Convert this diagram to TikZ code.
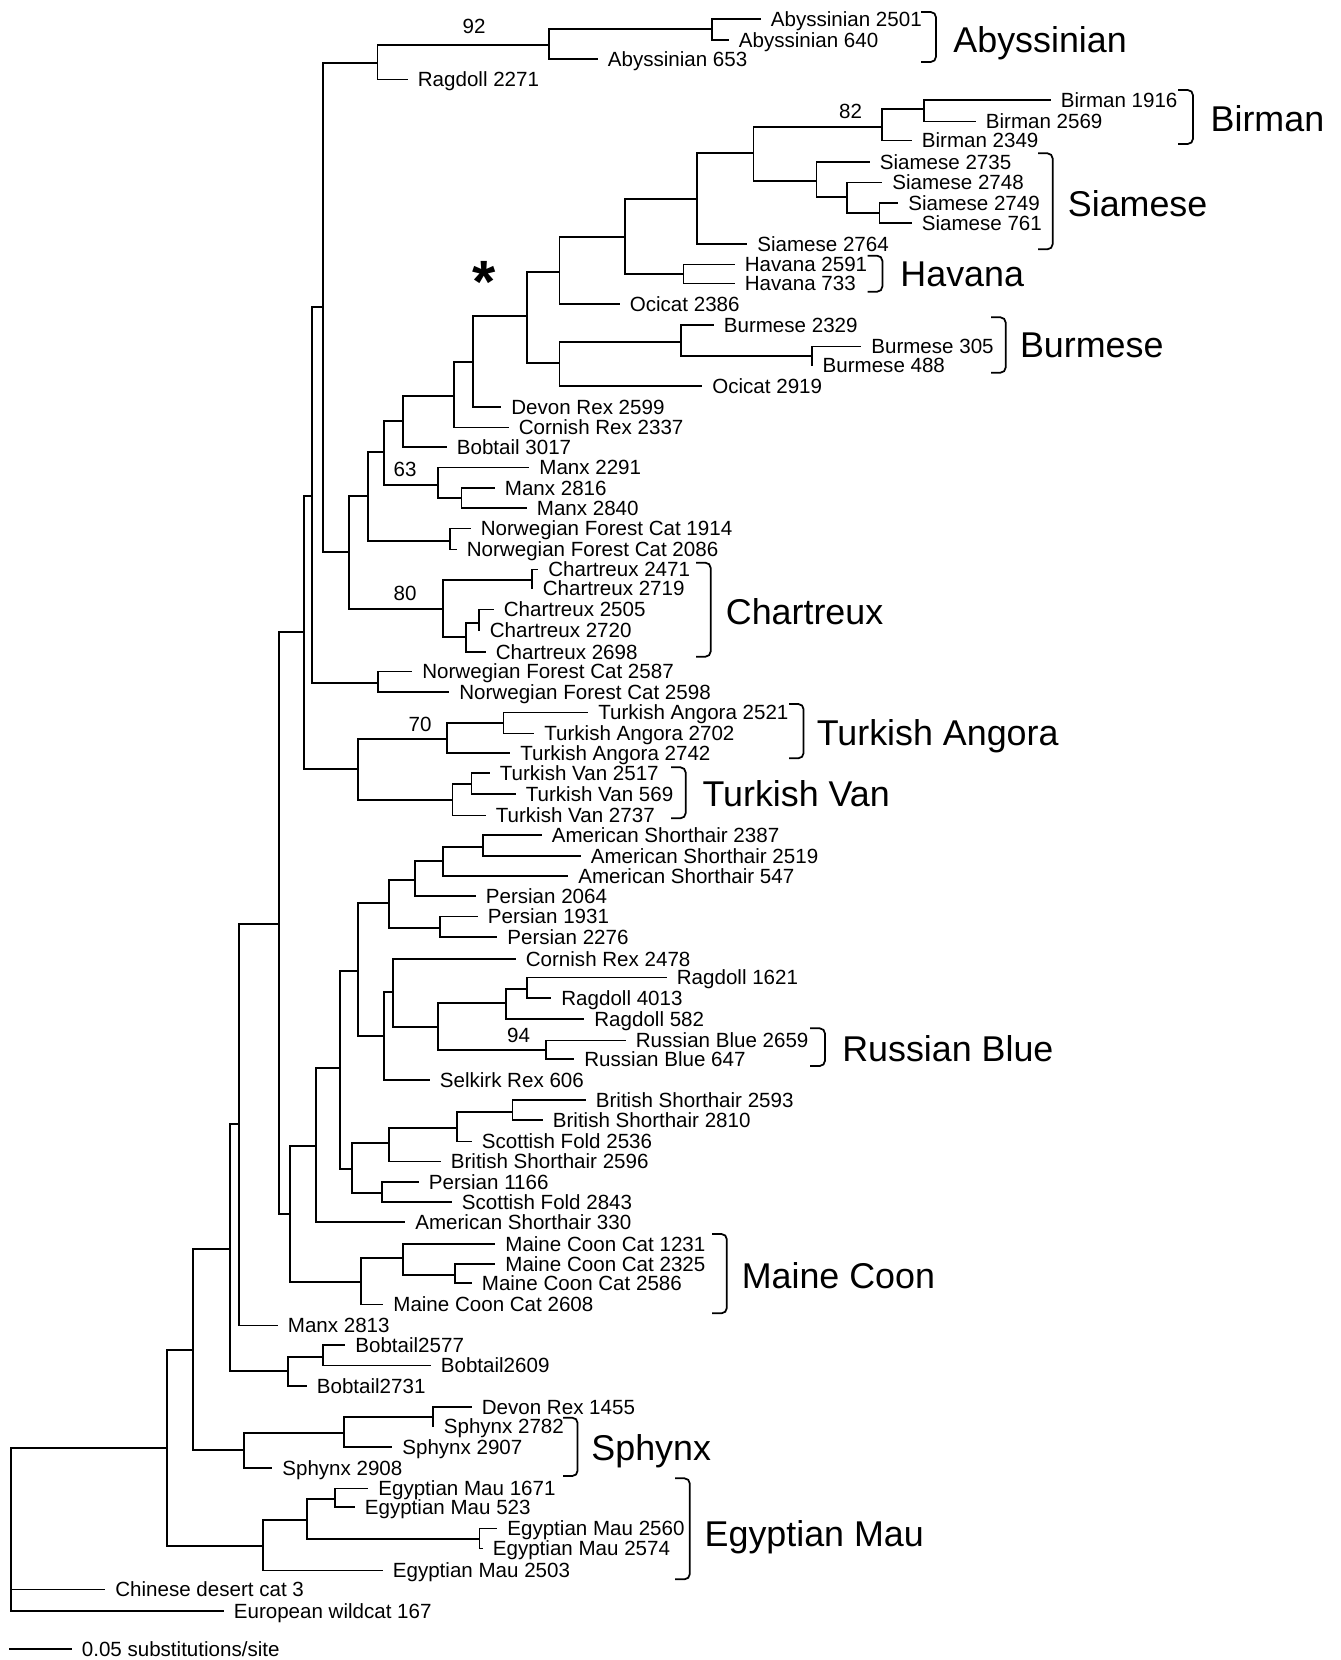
\documentclass[tikz,border=0pt]{standalone}
\usepackage{fontspec}
\setmainfont{Liberation Sans}
\begin{document}
\begin{tikzpicture}[x=0.02cm, y=-0.02cm, line width=1pt, line cap=rect,
  leaf/.style={anchor=west, inner xsep=0.2cm, inner ysep=0pt, text height=8.4pt, text depth=0pt, font=\fontsize{11.7}{12}\selectfont},
  clade/.style={anchor=west, inner sep=0pt, text height=14.6pt, text depth=0pt, font=\fontsize{20.4}{22}\selectfont},
  boot/.style={inner sep=0pt, text height=8.4pt, text depth=0pt, font=\fontsize{11.7}{12}\selectfont},
  bracket/.style={rounded corners=3pt}]
\useasboundingbox (0,0) rectangle (1341,1660);
% internal nodes
\coordinate (root) at (11,1530);
\coordinate (nI) at (167,1448);
\coordinate (nH) at (193,1350);
\coordinate (nG) at (230,1249);
\coordinate (nF) at (239,1124);
\coordinate (nD) at (279,924);
\coordinate (nC) at (304,632);
\coordinate (nB) at (312,496);
\coordinate (nA) at (323,307);
\coordinate (nAbyR) at (377.5,63);
\coordinate (nAby) at (548.7,45);
\coordinate (nAby2) at (712,29.3);
\coordinate (nS) at (349,552);
\coordinate (nT) at (367.7,496);
\coordinate (nU) at (384,451.7);
\coordinate (nV) at (403.3,420.7);
\coordinate (nW) at (454.3,395.7);
\coordinate (nX) at (473,362.3);
\coordinate (nY) at (527,316);
\coordinate (nZ) at (559.4,271.7);
\coordinate (nAA) at (624.8,236.7);
\coordinate (nHav) at (683.4,274);
\coordinate (nAB) at (697.2,199.3);
\coordinate (nAC) at (753.5,152.7);
\coordinate (nBir) at (882,126.7);
\coordinate (nBir2) at (924,109.3);
\coordinate (nSia) at (816.5,180.7);
\coordinate (nSia2) at (846.7,197.3);
\coordinate (nSia3) at (879.6,213.3);
\coordinate (nAD) at (559.6,363.3);
\coordinate (nBur) at (681.2,341.7);
\coordinate (nBur2) at (811.8,356);
\coordinate (nManx) at (437.7,485);
\coordinate (nManx2) at (461.5,498.3);
\coordinate (nNfcA) at (450,540.7);
\coordinate (nCha) at (442.7,608.7);
\coordinate (nCha1) at (532,580);
\coordinate (nCha2) at (466,636.7);
\coordinate (nCha3) at (479,623);
\coordinate (nNfcB) at (378,683);
\coordinate (nTur) at (358,769);
\coordinate (nAng) at (447,739);
\coordinate (nAng2) at (503.6,723);
\coordinate (nVan) at (452.5,800);
\coordinate (nVan2) at (471.4,784);
\coordinate (nE) at (290,1214);
\coordinate (nJ) at (316,1146);
\coordinate (nK) at (340,1068);
\coordinate (nM) at (358,971);
\coordinate (nQ) at (389,903);
\coordinate (nR) at (415,880);
\coordinate (nR2) at (442.7,861);
\coordinate (nR3) at (482.7,847);
\coordinate (nPer) at (440,928);
\coordinate (nN) at (384,1036);
\coordinate (nO) at (393,992);
\coordinate (nP) at (438,1027);
\coordinate (nRag) at (506,1003);
\coordinate (nRag2) at (526.7,989);
\coordinate (nRB) at (545.7,1050);
\coordinate (nL) at (352,1169);
\coordinate (nL1) at (389,1143);
\coordinate (nL3) at (457,1128);
\coordinate (nL4) at (512.5,1112);
\coordinate (nL2) at (382,1193);
\coordinate (nMC) at (361,1282);
\coordinate (nMC1) at (403,1258);
\coordinate (nMC2) at (455,1275);
\coordinate (nBob) at (288,1371);
\coordinate (nBob1) at (323,1357);
\coordinate (nSph) at (244,1450);
\coordinate (nSph1) at (344,1433);
\coordinate (nSph2) at (433,1417);
\coordinate (nEg) at (263,1546);
\coordinate (nEg1) at (307,1520);
\coordinate (nEg2) at (335,1499);
\coordinate (nEg3) at (479.6,1539);
% leaves
\node[leaf] (aby2501) at (760,19.3) {Abyssinian 2501};
\node[leaf] (aby640) at (728,40) {Abyssinian 640};
\node[leaf] (aby653) at (597,59.3) {Abyssinian 653};
\node[leaf] (rag2271) at (407,79.5) {Ragdoll 2271};
\node[leaf] (bir1916) at (1050,100) {Birman 1916};
\node[leaf] (bir2569) at (975,121.5) {Birman 2569};
\node[leaf] (bir2349) at (911,140.5) {Birman 2349};
\node[leaf] (sia2735) at (869,162) {Siamese 2735};
\node[leaf] (sia2748) at (881.5,182.5) {Siamese 2748};
\node[leaf] (sia2749) at (897.5,203) {Siamese 2749};
\node[leaf] (sia761) at (911,223) {Siamese 761};
\node[leaf] (sia2764) at (746.5,244) {Siamese 2764};
\node[leaf] (hav2591) at (734,264.5) {Havana 2591};
\node[leaf] (hav733) at (734,283.5) {Havana 733};
\node[leaf] (oci2386) at (619,304) {Ocicat 2386};
\node[leaf] (bur2329) at (713,325) {Burmese 2329};
\node[leaf] (bur305) at (860.5,346.5) {Burmese 305};
\node[leaf] (bur488) at (811.8,365.5) {Burmese 488};
\node[leaf] (oci2919) at (701.5,386) {Ocicat 2919};
\node[leaf] (dev2599) at (500.5,407) {Devon Rex 2599};
\node[leaf] (cor2337) at (508,427.5) {Cornish Rex 2337};
\node[leaf] (bob3017) at (446,447) {Bobtail 3017};
\node[leaf] (manx2291) at (528.5,467.5) {Manx 2291};
\node[leaf] (manx2816) at (494,488) {Manx 2816};
\node[leaf] (manx2840) at (526,508) {Manx 2840};
\node[leaf] (nfc1914) at (470,528.5) {Norwegian Forest Cat 1914};
\node[leaf] (nfc2086) at (456,549.5) {Norwegian Forest Cat 2086};
\node[leaf] (cha2471) at (537.5,569.5) {Chartreux 2471};
\node[leaf] (cha2719) at (532,588.5) {Chartreux 2719};
\node[leaf] (cha2505) at (493,609.5) {Chartreux 2505};
\node[leaf] (cha2720) at (479,630.5) {Chartreux 2720};
\node[leaf] (cha2698) at (485,652) {Chartreux 2698};
\node[leaf] (nfc2587) at (411.5,671.5) {Norwegian Forest Cat 2587};
\node[leaf] (nfc2598) at (448.5,692) {Norwegian Forest Cat 2598};
\node[leaf] (ta2521) at (587.5,712.5) {Turkish Angora 2521};
\node[leaf] (ta2702) at (533.5,733.5) {Turkish Angora 2702};
\node[leaf] (ta2742) at (509.5,753) {Turkish Angora 2742};
\node[leaf] (tv2517) at (489,773) {Turkish Van 2517};
\node[leaf] (tv569) at (515,794) {Turkish Van 569};
\node[leaf] (tv2737) at (485,815.5) {Turkish Van 2737};
\node[leaf] (ash2387) at (541,835) {American Shorthair 2387};
\node[leaf] (ash2519) at (580,856) {American Shorthair 2519};
\node[leaf] (ash547) at (567.5,876) {American Shorthair 547};
\node[leaf] (per2064) at (475,896) {Persian 2064};
\node[leaf] (per1931) at (477,916.5) {Persian 1931};
\node[leaf] (per2276) at (496.5,937) {Persian 2276};
\node[leaf] (cor2478) at (515,959) {Cornish Rex 2478};
\node[leaf] (rag1621) at (666,977.5) {Ragdoll 1621};
\node[leaf] (rag4013) at (550.5,998) {Ragdoll 4013};
\node[leaf] (rag582) at (583.5,1019) {Ragdoll 582};
\node[leaf] (rb2659) at (625,1040.5) {Russian Blue 2659};
\node[leaf] (rb647) at (573.5,1059) {Russian Blue 647};
\node[leaf] (sel606) at (429,1080) {Selkirk Rex 606};
\node[leaf] (bsh2593) at (585,1100) {British Shorthair 2593};
\node[leaf] (bsh2810) at (542,1120) {British Shorthair 2810};
\node[leaf] (sf2536) at (471,1141.5) {Scottish Fold 2536};
\node[leaf] (bsh2596) at (440,1161.5) {British Shorthair 2596};
\node[leaf] (per1166) at (418,1182) {Persian 1166};
\node[leaf] (sf2843) at (451,1202) {Scottish Fold 2843};
\node[leaf] (ash330) at (404.5,1222) {American Shorthair 330};
\node[leaf] (mcc1231) at (494.5,1244) {Maine Coon Cat 1231};
\node[leaf] (mcc2325) at (494.5,1264) {Maine Coon Cat 2325};
\node[leaf] (mcc2586) at (471,1283) {Maine Coon Cat 2586};
\node[leaf] (mcc2608) at (382.5,1304.5) {Maine Coon Cat 2608};
\node[leaf] (manx2813) at (277,1325.5) {Manx 2813};
\node[leaf] (bob2577) at (344.5,1345) {Bobtail2577};
\node[leaf] (bob2609) at (430,1365.5) {Bobtail2609};
\node[leaf] (bob2731) at (306,1386) {Bobtail2731};
\node[leaf] (dev1455) at (471,1407) {Devon Rex 1455};
\node[leaf] (sph2782) at (433,1426.5) {Sphynx 2782};
\node[leaf] (sph2907) at (391.5,1447) {Sphynx 2907};
\node[leaf] (sph2908) at (271.5,1468) {Sphynx 2908};
\node[leaf] (em1671) at (367.5,1488.5) {Egyptian Mau 1671};
\node[leaf] (em523) at (354,1507) {Egyptian Mau 523};
\node[leaf] (em2560) at (496.5,1528.5) {Egyptian Mau 2560};
\node[leaf] (em2574) at (482,1548.5) {Egyptian Mau 2574};
\node[leaf] (em2503) at (382,1570.5) {Egyptian Mau 2503};
\node[leaf] (chi3) at (104.5,1589.5) {Chinese desert cat 3};
\node[leaf] (eur167) at (223,1611) {European wildcat 167};
% branches
\draw (root) |- (nI) (root) |- (chi3.west) (root) |- (eur167.west);
\draw (nI) |- (nH) (nI) |- (nEg);
\draw (nH) |- (nG) (nH) |- (nSph);
\draw (nG) |- (nF) (nG) |- (nBob);
\draw (nF) |- (nD) (nF) |- (manx2813.west);
\draw (nD) |- (nC) (nD) |- (nE);
\draw (nC) |- (nB) (nC) |- (nTur);
\draw (nB) |- (nA) (nB) |- (nNfcB);
\draw (nA) |- (nAbyR) (nA) |- (nS);
\draw (nAbyR) |- (nAby) (nAbyR) |- (rag2271.west);
\draw (nAby) |- (nAby2) (nAby) |- (aby653.west);
\draw (nAby2) |- (aby2501.west) (nAby2) |- (aby640.west);
\draw (nS) |- (nT) (nS) |- (nCha);
\draw (nT) |- (nU) (nT) |- (nNfcA);
\draw (nU) |- (nV) (nU) |- (nManx);
\draw (nV) |- (nW) (nV) |- (bob3017.west);
\draw (nW) |- (nX) (nW) |- (cor2337.west);
\draw (nX) |- (nY) (nX) |- (dev2599.west);
\draw (nY) |- (nZ) (nY) |- (nAD);
\draw (nZ) |- (nAA) (nZ) |- (oci2386.west);
\draw (nAA) |- (nAB) (nAA) |- (nHav);
\draw (nHav) |- (hav2591.west) (nHav) |- (hav733.west);
\draw (nAB) |- (nAC) (nAB) |- (sia2764.west);
\draw (nAC) |- (nBir) (nAC) |- (nSia);
\draw (nBir) |- (nBir2) (nBir) |- (bir2349.west);
\draw (nBir2) |- (bir1916.west) (nBir2) |- (bir2569.west);
\draw (nSia) |- (sia2735.west) (nSia) |- (nSia2);
\draw (nSia2) |- (sia2748.west) (nSia2) |- (nSia3);
\draw (nSia3) |- (sia2749.west) (nSia3) |- (sia761.west);
\draw (nAD) |- (nBur) (nAD) |- (oci2919.west);
\draw (nBur) |- (bur2329.west) (nBur) |- (nBur2);
\draw (nBur2) |- (bur305.west) (nBur2) |- (bur488.west);
\draw (nManx) |- (manx2291.west) (nManx) |- (nManx2);
\draw (nManx2) |- (manx2816.west) (nManx2) |- (manx2840.west);
\draw (nNfcA) |- (nfc1914.west) (nNfcA) |- (nfc2086.west);
\draw (nCha) |- (nCha1) (nCha) |- (nCha2);
\draw (nCha1) |- (cha2471.west) (nCha1) |- (cha2719.west);
\draw (nCha2) |- (nCha3) (nCha2) |- (cha2698.west);
\draw (nCha3) |- (cha2505.west) (nCha3) |- (cha2720.west);
\draw (nNfcB) |- (nfc2587.west) (nNfcB) |- (nfc2598.west);
\draw (nTur) |- (nAng) (nTur) |- (nVan);
\draw (nAng) |- (nAng2) (nAng) |- (ta2742.west);
\draw (nAng2) |- (ta2521.west) (nAng2) |- (ta2702.west);
\draw (nVan) |- (nVan2) (nVan) |- (tv2737.west);
\draw (nVan2) |- (tv2517.west) (nVan2) |- (tv569.west);
\draw (nE) |- (nJ) (nE) |- (nMC);
\draw (nJ) |- (nK) (nJ) |- (ash330.west);
\draw (nK) |- (nM) (nK) |- (nL);
\draw (nM) |- (nQ) (nM) |- (nN);
\draw (nQ) |- (nR) (nQ) |- (nPer);
\draw (nR) |- (nR2) (nR) |- (per2064.west);
\draw (nR2) |- (nR3) (nR2) |- (ash547.west);
\draw (nR3) |- (ash2387.west) (nR3) |- (ash2519.west);
\draw (nPer) |- (per1931.west) (nPer) |- (per2276.west);
\draw (nN) |- (nO) (nN) |- (sel606.west);
\draw (nO) |- (cor2478.west) (nO) |- (nP);
\draw (nP) |- (nRag) (nP) |- (nRB);
\draw (nRag) |- (nRag2) (nRag) |- (rag582.west);
\draw (nRag2) |- (rag1621.west) (nRag2) |- (rag4013.west);
\draw (nRB) |- (rb2659.west) (nRB) |- (rb647.west);
\draw (nL) |- (nL1) (nL) |- (nL2);
\draw (nL1) |- (nL3) (nL1) |- (bsh2596.west);
\draw (nL3) |- (nL4) (nL3) |- (sf2536.west);
\draw (nL4) |- (bsh2593.west) (nL4) |- (bsh2810.west);
\draw (nL2) |- (per1166.west) (nL2) |- (sf2843.west);
\draw (nMC) |- (nMC1) (nMC) |- (mcc2608.west);
\draw (nMC1) |- (mcc1231.west) (nMC1) |- (nMC2);
\draw (nMC2) |- (mcc2325.west) (nMC2) |- (mcc2586.west);
\draw (nBob) |- (nBob1) (nBob) |- (bob2731.west);
\draw (nBob1) |- (bob2577.west) (nBob1) |- (bob2609.west);
\draw (nSph) |- (nSph1) (nSph) |- (sph2908.west);
\draw (nSph1) |- (nSph2) (nSph1) |- (sph2907.west);
\draw (nSph2) |- (dev1455.west) (nSph2) |- (sph2782.west);
\draw (nEg) |- (nEg1) (nEg) |- (em2503.west);
\draw (nEg1) |- (nEg2) (nEg1) |- (nEg3);
\draw (nEg2) |- (em1671.west) (nEg2) |- (em523.west);
\draw (nEg3) |- (em2560.west) (nEg3) |- (em2574.west);
% bootstrap values
\node[boot] (bs92) at (474,26.5) {92};
\node[boot] (bs82) at (850.5,111) {82};
\node[boot] (bs63) at (405,469.5) {63};
\node[boot] (bs80) at (405,593.5) {80};
\node[boot] (bs70) at (420,724) {70};
\node[boot] (bs94) at (518.6,1035.5) {94};
\node[anchor=base, inner sep=0pt, font=\fontsize{34}{34}\selectfont\bfseries] (star) at (484,302) {*};
% breed brackets
\draw[bracket] (922,12) -- (936,12) -- (936,62) -- (922,62);
\node[clade] (labAby) at (952.6,39.5) {Abyssinian};
\draw[bracket] (1179,90) -- (1193,90) -- (1193,144) -- (1179,144);
\node[clade] (labBir) at (1209.8,119) {Birman};
\draw[bracket] (1039,153.3) -- (1052.7,153.3) -- (1052.7,249.3) -- (1039,249.3);
\node[clade] (labSia) at (1067,203.5) {Siamese};
\draw[bracket] (868.5,255.7) -- (882.4,255.7) -- (882.4,291.7) -- (868.5,291.7);
\node[clade] (labHav) at (899.6,274) {Havana};
\draw[bracket] (992,317.3) -- (1005.7,317.3) -- (1005.7,372.7) -- (992,372.7);
\node[clade] (labBur) at (1019.2,345) {Burmese};
\draw[bracket] (697,562.7) -- (710.7,562.7) -- (710.7,656.7) -- (697,656.7);
\node[clade] (labCha) at (725,611.8) {Chartreux};
\draw[bracket] (790,704) -- (803.6,704) -- (803.6,758.3) -- (790,758.3);
\node[clade] (labAng) at (816,732.4) {Turkish Angora};
\draw[bracket] (672,767.3) -- (685.7,767.3) -- (685.7,818.3) -- (672,818.3);
\node[clade] (labVan) at (701.7,793.8) {Turkish Van};
\draw[bracket] (811,1028.3) -- (825,1028.3) -- (825,1066) -- (811,1066);
\node[clade] (labRB) at (841.4,1049) {Russian Blue};
\draw[bracket] (713,1234) -- (726.8,1234) -- (726.8,1313.3) -- (713,1313.3);
\node[clade] (labMC) at (740.9,1275.4) {Maine Coon};
\draw[bracket] (564,1417.7) -- (577.6,1417.7) -- (577.6,1476) -- (564,1476);
\node[clade] (labSph) at (590.6,1448) {Sphynx};
\draw[bracket] (676,1478.3) -- (689.8,1478.3) -- (689.8,1579.3) -- (676,1579.3);
\node[clade] (labEM) at (703.8,1533.6) {Egyptian Mau};
% scale bar
\coordinate (sb0) at (10,1649);
\node[leaf] (sblabel) at (71,1649) {0.05 substitutions/site};
\draw (sb0) -- (sblabel.west);
\end{tikzpicture}
\end{document}
